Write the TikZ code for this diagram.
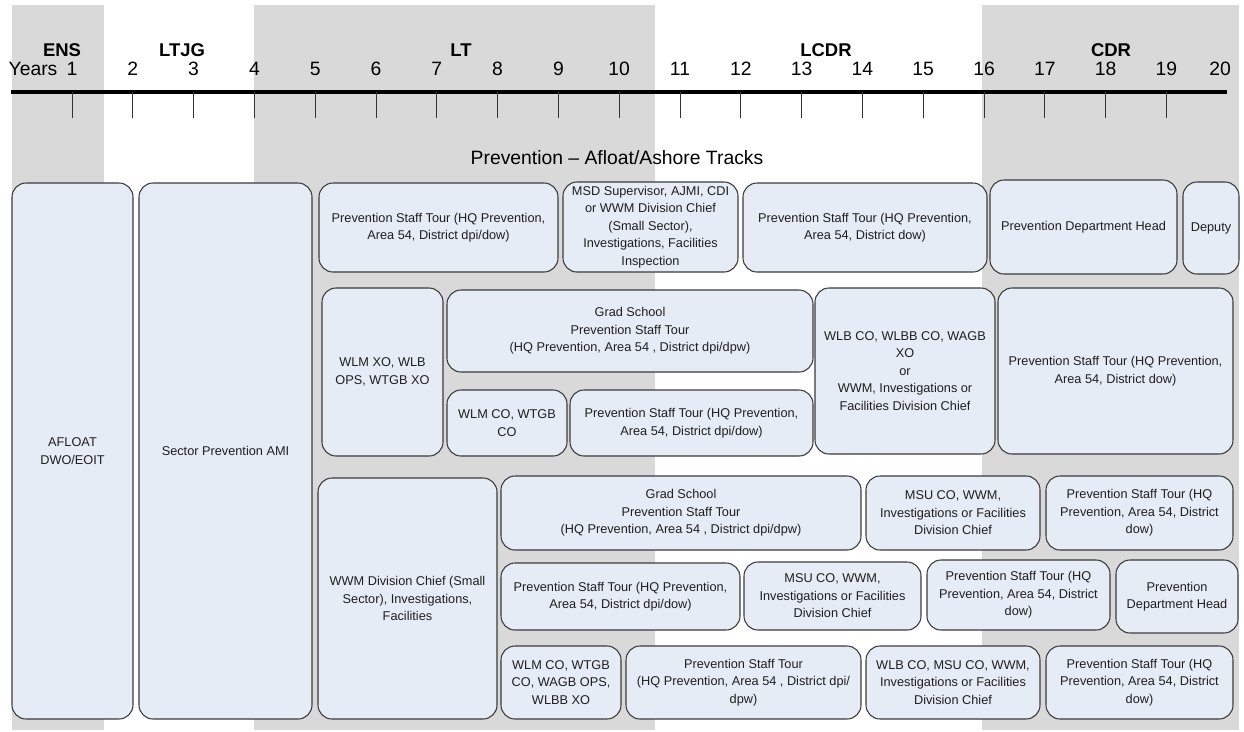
\documentclass[tikz,border=0pt]{standalone}
\usepackage{fontspec}
\setmainfont{Liberation Sans}
\usepackage{xcolor}
\usepackage{tikz}
\definecolor{bandgrey}{HTML}{D9D9D9}
\definecolor{boxfill}{HTML}{E6ECF6}
\definecolor{boxline}{HTML}{3A3A3A}
\definecolor{inktext}{HTML}{1E1E1E}
\tikzstyle{band} = [fill=bandgrey, draw=none]
\tikzstyle{trackbox} = [fill=boxfill, draw=boxline, line width=0.6pt, rounded corners=0.28cm]
\tikzstyle{boxtext} = [align=center, text=inktext, inner sep=1pt, font=\fontsize{7.25}{10}\selectfont]
\tikzstyle{yearlabel} = [inner sep=0pt, font=\fontsize{11}{12}\selectfont]
\tikzstyle{ranklabel} = [inner sep=0pt, font=\fontsize{10.5}{12}\selectfont\bfseries]

\begin{document}
\begin{tikzpicture}[x=0.02cm, y=-0.02cm]
    \useasboundingbox (0,0) rectangle (1244,731);

    % rank bands
    \fill[band] (12,5) rectangle (104,730);
    \fill[band] (254,5) rectangle (655,730);
    \fill[band] (982,5) rectangle (1239,730);

    % year axis
    \coordinate (axisStart) at (11,92);
    \coordinate (axisEnd) at (1227,92);
    \draw[line width=2.2pt] (axisStart) -- (axisEnd);
    \foreach \n in {1,...,19}
        \draw[line width=0.5pt, black!80] (11.2+60.8*\n,92) -- ++(0,26);
    \foreach \n in {1,...,19}
        \node[yearlabel] (year\n) at (11.2+60.8*\n,69) {\n};
    \node[yearlabel] (year20) at (1220,69) {20};
    \node[yearlabel] (yearsLabel) at (33,69) {Years};

    \node[ranklabel] (ens) at (62,50) {ENS};
    \node[ranklabel] (ltjg) at (182,50) {LTJG};
    \node[ranklabel] (lt) at (461,50) {LT};
    \node[ranklabel] (lcdr) at (826,50) {LCDR};
    \node[ranklabel] (cdr) at (1111,50) {CDR};

    \node[yearlabel] (trackTitle) at (617,158) {Prevention -- Afloat/Ashore Tracks};

    % full height tracks
    \draw[trackbox] (12,183) rectangle (133,719) node[midway,boxtext] (afloat) {AFLOAT\\DWO/EOIT};
    \draw[trackbox] (139,183) rectangle (312,719) node[midway,boxtext] (sectorAmi) {Sector Prevention AMI};

    % first track
    \draw[trackbox] (319,183) rectangle (558,272) node[midway,boxtext] (staffTourA) {Prevention Staff Tour (HQ Prevention,\\Area 54, District dpi/dow)};
    \draw[trackbox] (563,182) rectangle (738,272) node[midway,boxtext] (msdSup) {MSD Supervisor, AJMI, CDI\\or WWM Division Chief\\(Small Sector),\\Investigations, Facilities\\Inspection};
    \draw[trackbox] (743,183) rectangle (987,272) node[midway,boxtext] (staffTourB) {Prevention Staff Tour (HQ Prevention,\\Area 54, District dow)};
    \draw[trackbox] (990,180) rectangle (1177,274) node[midway,boxtext] (deptHeadA) {Prevention Department Head};
    \draw[trackbox] (1183,182) rectangle (1239,274) node[midway,boxtext] (deputy) {Deputy};

    % second track
    \draw[trackbox] (322,288) rectangle (443,456) node[midway,boxtext] (wlmXo) {WLM XO, WLB\\OPS, WTGB XO};
    \draw[trackbox] (447,290) rectangle (813,372) node[midway,boxtext] (gradSchoolA) {Grad School\\Prevention Staff Tour\\(HQ Prevention, Area 54 , District dpi/dpw)};
    \draw[trackbox] (447,390) rectangle (567,456) node[midway,boxtext] (wlmCoA) {WLM CO, WTGB\\CO};
    \draw[trackbox] (570,390) rectangle (813,456) node[midway,boxtext] (staffTourC) {Prevention Staff Tour (HQ Prevention,\\Area 54, District dpi/dow)};
    \draw[trackbox] (815,288) rectangle (995,454) node[midway,boxtext] (wlbCoA) {WLB CO, WLBB CO, WAGB\\XO\\or\\WWM, Investigations or\\Facilities Division Chief};
    \draw[trackbox] (998,288) rectangle (1233,454) node[midway,boxtext] (staffTourD) {Prevention Staff Tour (HQ Prevention,\\Area 54, District dow)};

    % third track
    \draw[trackbox] (318,478) rectangle (497,719) node[midway,boxtext] (wwmChief) {WWM Division Chief (Small\\Sector), Investigations,\\Facilities};
    \draw[trackbox] (501,476) rectangle (861,550) node[midway,boxtext] (gradSchoolB) {Grad School\\Prevention Staff Tour\\(HQ Prevention, Area 54 , District dpi/dpw)};
    \draw[trackbox] (866,476) rectangle (1040,550) node[midway,boxtext] (msuCoA) {MSU CO, WWM,\\Investigations or Facilities\\Division Chief};
    \draw[trackbox] (1046,476) rectangle (1233,550) node[midway,boxtext] (staffTourE) {Prevention Staff Tour (HQ\\Prevention, Area 54, District\\dow)};

    \draw[trackbox] (501,563) rectangle (740,630) node[midway,boxtext] (staffTourF) {Prevention Staff Tour (HQ Prevention,\\Area 54, District dpi/dow)};
    \draw[trackbox] (744,562) rectangle (921,630) node[midway,boxtext] (msuCoB) {MSU CO, WWM,\\Investigations or Facilities\\Division Chief};
    \draw[trackbox] (927,560) rectangle (1110,630) node[midway,boxtext] (staffTourG) {Prevention Staff Tour (HQ\\Prevention, Area 54, District\\dow)};
    \draw[trackbox] (1116,560) rectangle (1238,633) node[midway,boxtext] (deptHeadB) {Prevention\\Department Head};

    \draw[trackbox] (501,646) rectangle (621,719) node[midway,boxtext] (wlmCoB) {WLM CO, WTGB\\CO, WAGB OPS,\\WLBB XO};
    \draw[trackbox] (626,646) rectangle (861,719) node[midway,boxtext] (staffTourH) {Prevention Staff Tour\\(HQ Prevention, Area 54 , District dpi/\\dpw)};
    \draw[trackbox] (866,646) rectangle (1040,719) node[midway,boxtext] (wlbCoB) {WLB CO, MSU CO, WWM,\\Investigations or Facilities\\Division Chief};
    \draw[trackbox] (1046,646) rectangle (1233,719) node[midway,boxtext] (staffTourJ) {Prevention Staff Tour (HQ\\Prevention, Area 54, District\\dow)};
\end{tikzpicture}
\end{document}
